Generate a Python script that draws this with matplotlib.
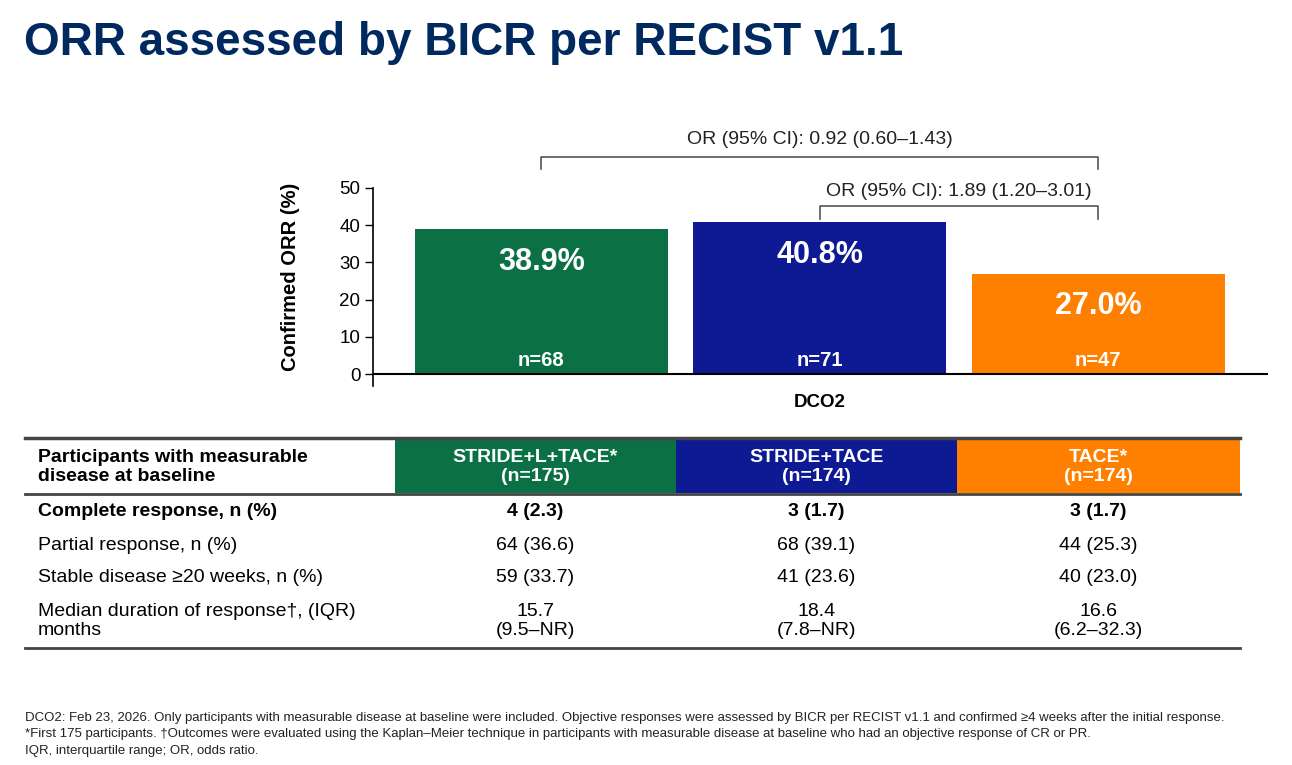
import matplotlib
matplotlib.use("Agg")
import matplotlib.pyplot as plt

plt.rcParams['font.family'] = ['Liberation Sans', 'DejaVu Sans']

# data
arms = ["STRIDE+L+TACE*", "STRIDE+TACE", "TACE*"]
arm_n = ["(n=175)", "(n=174)", "(n=174)"]
orr = [38.9, 40.8, 27.0]
responders = ["n=68", "n=71", "n=47"]
bar_colors = ["#0b7145", "#0d1a93", "#ff7f00"]
or_labels = ["OR (95% CI): 0.92 (0.60\u20131.43)", "OR (95% CI): 1.89 (1.20\u20133.01)"]
yticks = [0, 10, 20, 30, 40, 50]

row_labels = ["Complete response, n (%)", "Partial response, n (%)",
              "Stable disease \u226520 weeks, n (%)",
              "Median duration of response\u2020, (IQR)\nmonths"]
complete = ["4 (2.3)", "3 (1.7)", "3 (1.7)"]
partial = ["64 (36.6)", "68 (39.1)", "44 (25.3)"]
stable = ["59 (33.7)", "41 (23.6)", "40 (23.0)"]
dor = ["15.7\n(9.5\u2013NR)", "18.4\n(7.8\u2013NR)", "16.6\n(6.2\u201332.3)"]

footnotes = [
    "DCO2: Feb 23, 2026. Only participants with measurable disease at baseline were included. Objective responses were assessed by BICR per RECIST v1.1 and confirmed \u22654 weeks after the initial response.",
    "*First 175 participants. \u2020Outcomes were evaluated using the Kaplan\u2013Meier technique in participants with measurable disease at baseline who had an objective response of CR or PR.",
    "IQR, interquartile range; OR, odds ratio.",
]

navy = "#002960"
W, H = 1292, 765
fig = plt.figure(figsize=(W / 100, H / 100), dpi=100)

# overlay axes in pixel coords for title / table / footnotes
bg = fig.add_axes([0, 0, 1, 1])
bg.set_xlim(0, W)
bg.set_ylim(H, 0)
bg.axis("off")

bg.text(24, 43, "ORR assessed by BICR per RECIST v1.1", fontsize=33, fontweight="bold",
        color=navy, va="center", ha="left")

# bar chart
ax = fig.add_axes([373 / W, 1 - 386 / H, (1268 - 373) / W, (386 - 188) / H])
x = range(len(orr))
ax.bar(x, orr, width=0.908, color=bar_colors, zorder=2)
ax.set_xlim(-0.605, 2.61)
ax.set_ylim(-3.2, 50)
ax.set_yticks(yticks)
ax.tick_params(axis="y", labelsize=13.5, length=6, width=1, pad=3)
ax.set_xticks([])
for s in ["top", "right", "bottom"]:
    ax.spines[s].set_visible(False)
ax.spines["left"].set_linewidth(1.2)
ax.axhline(0, color="black", lw=1.5, zorder=3)
ax.set_ylabel("Confirmed ORR (%)", fontsize=14.5, fontweight="bold")
ax.yaxis.set_label_coords(-0.082, 0.55)
ax.text(1, -7.5, "DCO2", ha="center", va="center", fontsize=13.5, fontweight="bold")

for i, v in enumerate(orr):
    ax.text(i, v - 8.8, f"{v:.1f}%", ha="center", va="center", color="white",
            fontsize=22, fontweight="bold")
    ax.text(i, 3.6, responders[i], ha="center", va="center", color="white",
            fontsize=14.5, fontweight="bold")

# OR brackets
brackets = [(0, 2, 58.3, 55.0, 63.0, 1.0), (1, 2, 45.2, 41.7, 49.0, 1.5)]
for (a, b, ytop, yend, ytxt, xt), lab in zip(brackets, or_labels):
    ax.plot([a, a, b, b], [yend, ytop, ytop, yend], color="#555555", lw=1.2, clip_on=False)
    ax.text(xt, ytxt, lab, ha="center", va="center", fontsize=14, color="#222222",
            clip_on=False)

# table
bg.plot([25, 1240], [438, 438], color="#444444", lw=2.5)
bg.plot([25, 1240], [494, 494], color="#444444", lw=2)
bg.plot([25, 1240], [648, 648], color="#444444", lw=2)
col_edges = [395, 676, 957, 1240]
col_centers = [(col_edges[i] + col_edges[i + 1]) / 2 for i in range(3)]
fs = 14
for i in range(3):
    bg.add_patch(plt.Rectangle((col_edges[i], 440), col_edges[i + 1] - col_edges[i], 53,
                               color=bar_colors[i], lw=0))
    bg.text(col_centers[i], 467, arms[i] + "\n" + arm_n[i], ha="center", va="center",
            color="white", fontsize=fs, fontweight="bold", linespacing=1.2)
bg.text(38, 467, "Participants with measurable\ndisease at baseline", ha="left", va="center",
        fontsize=fs, fontweight="bold", linespacing=1.2)

row_y = [511, 545, 577, 621]
row_vals = [complete, partial, stable, dor]
for r, (lab, vals, yy) in enumerate(zip(row_labels, row_vals, row_y)):
    fw = "bold" if r == 0 else "normal"
    bg.text(38, yy, lab, ha="left", va="center", fontsize=fs, fontweight=fw,
            linespacing=1.2)
    for c in range(3):
        bg.text(col_centers[c], yy, vals[c], ha="center", va="center", fontsize=fs,
                fontweight=fw, linespacing=1.2)

for k, fn in enumerate(footnotes):
    bg.text(25, 718 + 16.5 * k, fn, ha="left", va="center", fontsize=9.5, color="#222222")

fig.savefig("out.png", dpi=100)
